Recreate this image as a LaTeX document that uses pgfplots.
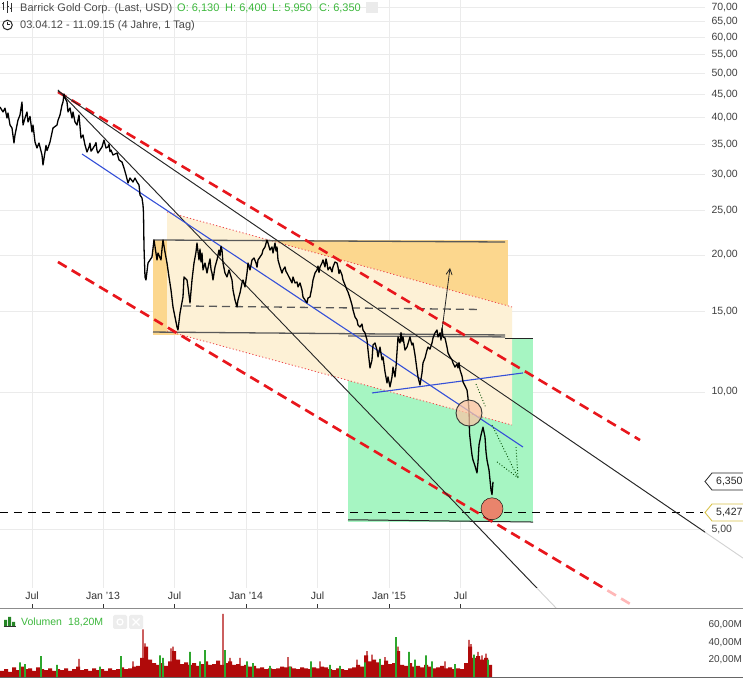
\documentclass[border=0pt]{standalone}
\usepackage{pgfplots}
\pgfplotsset{compat=1.18}
\usepackage{pgfplotstable}
\usetikzlibrary{arrows.meta}
\usepackage{fontspec}
\setmainfont{Liberation Sans}
\definecolor{gridc}{HTML}{EBEBEB}
\definecolor{txt}{HTML}{4A4A4A}
\definecolor{hdrgreen}{HTML}{3DB83D}
\definecolor{redd}{HTML}{E8161C}
\definecolor{orangef}{HTML}{FCD78E}
\definecolor{creamf}{HTML}{FDF1D6}
\definecolor{greenf}{HTML}{A6F5C2}
\definecolor{bluel}{HTML}{3550D8}
\definecolor{peach}{HTML}{F9C6A6}
\definecolor{salmon}{HTML}{E9846C}
\definecolor{volred}{HTML}{B00A0A}
\definecolor{volgreen}{HTML}{2EA62E}
\definecolor{gold}{HTML}{D8C24A}
\newcommand\fa{\fontsize{10.5}{12}\selectfont}
\newcommand\fv{\fontsize{10}{12}\selectfont}
\newcommand\fh{\fontsize{11}{13}\selectfont}

\pgfplotstableread{
x p
0 42.25
3 41.21
5 42.00
7 39.97
8 41.00
10 38.58
12 38.00
14 35.23
15 36.68
18 39.57
20 40.58
22 43.34
23 38.58
25 39.97
27 41.21
28 39.17
30 40.30
32 37.24
33 38.58
35 35.40
37 34.35
39 35.23
42 33.15
43 31.52
45 33.66
46 34.80
47 33.90
48 34.35
50 35.40
53 38.00
57 38.58
58 39.50
60 40.58
62 42.68
63 43.34
64 45.13
65 44.23
67 43.34
68 41.21
70 42.05
72 39.97
73 41.21
75 39.17
77 38.58
79 40.58
81 36.12
83 36.68
85 34.87
87 33.66
89 34.52
90 35.20
91 33.80
92 34.00
95 34.87
96 35.30
97 33.90
98 33.49
102 34.52
104 35.76
106 34.35
108 34.52
109 35.00
110 33.70
111 34.00
113 33.15
117 33.49
119 32.33
122 32.00
124 31.04
126 29.96
128 28.78
130 29.51
133 28.92
135 29.51
137 28.92
139 28.49
140 27.08
142 26.68
143 25.75
143.5 24.73
144 20.82
145 17.89
146 17.62
148 19.20
152 19.79
154 21.57
157 19.50
158 20.19
161 19.50
162 20.60
163 21.57
165 20.29
167 19.20
169 17.89
171 16.75
173 15.37
175 14.61
177 13.89
178 13.68
180 14.91
183 16.17
184 17.89
187 17.62
188 17.01
190 15.69
192 17.62
194 19.20
196 20.29
197 21.24
199 19.50
200 20.60
201 19.30
202 20.19
203 18.54
205 19.20
207 18.25
209 19.20
210 19.60
211 18.60
212 18.25
213 17.62
215 18.82
217 19.50
219 20.50
220 19.90
221 20.90
222 20.50
223 19.20
225 18.25
227 17.89
229 18.54
232 17.62
233 16.75
235 15.92
237 15.37
238 15.92
240 16.50
242 17.36
243 17.62
245 17.01
247 18.25
248 19.20
250 18.54
251 19.00
252 19.50
254 19.70
256 19.20
257 18.80
258 19.50
260 19.79
262 20.09
263 20.50
265 20.82
267 21.57
268 21.24
270 20.50
272 20.82
273 20.19
275 21.24
276 20.40
277 20.82
278 19.50
280 18.82
282 18.25
283 18.54
285 18.82
286 18.40
287 18.25
289 17.89
292 17.36
293 17.89
295 17.36
297 17.44
298 17.01
300 17.36
302 16.75
303 16.17
305 15.92
307 15.69
308 16.08
310 16.17
312 17.01
313 17.62
315 18.25
317 18.54
318 18.90
319 18.30
320 18.82
322 19.20
323 19.50
325 18.82
326 19.60
327 19.20
328 18.54
330 18.82
332 18.35
333 18.82
335 19.30
337 19.20
338 18.82
339 18.20
340 18.54
342 18.07
343 17.62
345 17.18
347 16.75
348 16.58
350 16.08
352 15.53
353 15.14
355 14.61
357 14.39
358 14.03
360 13.89
362 14.10
363 13.68
365 13.48
367 13.01
368 12.36
370 11.29
372 11.76
373 12.68
375 12.81
377 12.36
378 11.94
380 12.55
382 11.76
383 11.94
385 11.07
387 10.47
388 10.79
390 10.26
392 10.79
393 11.34
395 10.79
396 11.34
398 13.21
400 12.81
401 13.50
402 12.90
403 13.21
405 12.36
407 12.55
410 13.21
411 12.90
412 12.68
413 12.81
415 12.06
417 11.18
418 10.79
420 10.36
422 11.01
423 11.58
425 11.88
427 12.36
428 12.55
430 12.42
432 12.81
433 13.14
435 13.48
437 13.68
438 13.21
440 13.48
441 13.00
442 13.82
443 13.21
445 13.14
447 12.55
448 12.18
450 11.94
452 11.76
453 11.58
455 11.34
457 11.52
458 11.29
459 11.60
460 11.18
462 10.84
463 10.52
465 10.31
467 10.10
468 9.70
469 9.13
469.5 8.12
471 7.57
472 7.27
473 7.09
475 6.88
477 6.64
478 7.02
479 7.65
481 8.04
483 8.37
485 7.96
486 7.38
487 7.09
489 6.74
490 6.41
491 6.09
492 5.95
493 6.35
}\price

\pgfplotstableread{
x v
2 7
6 9
10 6
14 11
18 8
22 12
26 9
30 10
34 7
38 11
42 9
46 8
50 10
54 7
58 9
62 8
66 10
70 7
74 9
78 12
82 8
86 9
90 7
94 10
98 8
102 9
106 7
110 10
114 8
118 9
122 11
126 9
130 10
134 12
138 13
142 22
146 35
150 20
154 16
158 14
162 16
166 13
170 18
174 30
178 20
182 15
186 17
190 14
194 16
198 13
202 15
206 18
210 14
214 15
218 19
222 14
226 16
230 18
234 14
238 15
242 13
246 14
250 12
254 13
258 10
262 11
266 9
270 10
274 9
278 10
282 12
286 11
290 12
294 10
298 9
302 11
306 10
310 9
314 11
318 10
322 12
326 11
330 9
334 8
338 10
342 9
346 8
350 10
354 11
358 14
362 12
366 25
370 18
374 20
378 17
382 14
386 19
390 15
394 16
398 30
402 14
406 13
410 16
414 12
418 13
422 11
426 14
430 12
434 10
438 11
442 13
446 10
450 11
454 9
458 10
462 9
466 16
470 35
474 22
478 24
482 20
486 22
490 14
}\volume

\begin{document}
\begin{tikzpicture}[x=1pt,y=1pt]
\path[use as bounding box, fill=white] (0pt,0pt) rectangle (743pt,679pt);

% ---------- frame axis: x ticks + faded continuations ----------
\begin{axis}[
  at={(0pt,679pt)}, anchor=north west, scale only axis,
  width=743pt, height=609pt, xmin=0, xmax=743, ymin=3.338, ymax=72.61, ymode=log,
  axis line style={draw=none},
  ytick=\empty,
  xtick={32,103,174.5,246,317.5,389,460.5},
  xticklabels={Jul,Jan '13,Jul,Jan '14,Jul,Jan '15,Jul},
  xtick pos=left,
  tick align=inside, major tick length=5pt,
  xtick style={black!80, line width=0.8pt},
  xticklabel style={anchor=base, yshift=9pt, text=black!80, font=\fa},
  clip=true,
]
\addplot[gray!35, line width=0.9pt] coordinates {(58,45.83) (743,4.318)};
\addplot[gray!35, line width=0.9pt] coordinates {(58,46.06) (557,3.338)};
\addplot[red!28, line width=2.6pt, dash pattern=on 10pt off 6pt] coordinates {(58,19.30) (632,3.405)};
\end{axis}
\draw[black!45, line width=1pt] (0pt,70pt) -- (743pt,70pt);

% ---------- main price axis ----------
\begin{axis}[
  at={(0pt,679pt)}, anchor=north west, scale only axis,
  width=705pt, height=588pt, xmin=0, xmax=705, ymin=3.711, ymax=72.61, ymode=log,
  axis line style={draw=none},
  xtick={32,103,174.5,246,317.5,389,460.5}, xticklabels={},
  ytick={5,10,15,20,25,30,35,40,45,50,55,60,65,70},
  yticklabels={{5,00},{10,00},{15,00},{20,00},{25,00},{30,00},{35,00},{40,00},{45,00},{50,00},{55,00},{60,00},{65,00},{70,00}},
  yticklabel pos=right,
  yticklabel style={anchor=west, xshift=3pt, text=black!75, font=\fa},
  major tick length=0pt, grid=major, major grid style={gridc, line width=0.8pt},
  clip=true,
]
% areas
\addplot[fill=orangef, draw=none] coordinates {(153,21.57) (508,21.57) (508,13.34) (153,13.34)};
\addplot[fill=greenf, draw=none] coordinates {(348,13.08) (533,13.08) (533,5.18) (348,5.18)};
\addplot[fill=creamf, draw=none] coordinates {(167,24.85) (512,15.37) (512,8.46) (167,13.61)};
% dotted channel borders
\addplot[redd!80, line width=0.8pt, dash pattern=on 1.2pt off 2.2pt] coordinates {(167,24.85) (512,15.37)};
\addplot[redd!80, line width=0.8pt, dash pattern=on 1.2pt off 2.2pt] coordinates {(167,13.61) (512,8.46)};
% box lines
\addplot[black!65, line width=1.3pt] coordinates {(153,21.57) (505,21.35)};
\addplot[black!65, line width=1.3pt] coordinates {(153,13.54) (505,13.34)};
\addplot[black!60, line width=1.3pt] coordinates {(348,13.27) (505,13.21)};
\addplot[black!85, line width=1pt] coordinates {(505,13.08) (533,13.08)};
\addplot[black!85, line width=1pt] coordinates {(348,5.24) (533,5.18)};
\addplot[black!65, line width=1.3pt, dash pattern=on 8pt off 5pt] coordinates {(183,15.45) (478,15.18)};
\addplot[black, line width=0.9pt, dash pattern=on 8pt off 6pt] coordinates {(0,5.427) (703,5.427)};
% trend lines
\addplot[redd, line width=2.6pt, dash pattern=on 10pt off 6pt] coordinates {(58,45.60) (640,7.84)};
\addplot[redd, line width=2.6pt, dash pattern=on 10pt off 6pt] coordinates {(58,19.30) (632,3.405)};
\addplot[black!85, line width=0.9pt] coordinates {(58,45.83) (743,4.318)};
\addplot[black!85, line width=0.9pt] coordinates {(58,46.06) (557,3.338)};
\addplot[bluel, line width=1.1pt] coordinates {(82,33.32) (523,7.57)};
\addplot[bluel, line width=1.1pt] coordinates {(372,9.95) (523,11.01)};
% price
\addplot[black, line width=1.3pt, line join=round] table {\price};
% annotations
\addplot[black!85, line width=0.8pt, -{Straight Barb[length=6pt,width=6pt]}] coordinates {(441,13.14) (450,18.73)};
\addplot[only marks, mark=*, mark size=13pt, mark options={fill=peach, fill opacity=0.75, draw=black!80, line width=0.9pt}] coordinates {(469,8.99)};
\addplot[only marks, mark=*, mark size=11pt, mark options={fill=salmon, draw=none}] coordinates {(492,5.54)};
\addplot[black!70!green, line width=0.9pt, dotted] coordinates {(476,10.41) (486,9.22)};
\addplot[black!70!green, line width=0.9pt, dotted] coordinates {(492,8.46) (518,6.48)};
\addplot[black!70!green, line width=0.9pt, dotted] coordinates {(497,7.02) (518,6.48)};
\addplot[black!70!green, line width=0.9pt, dotted] coordinates {(516,7.57) (518,6.48)};
\end{axis}

% ---------- volume axis ----------
\begin{axis}[
  at={(0pt,2pt)}, anchor=south west, scale only axis,
  width=705pt, height=68pt, xmin=0, xmax=705, ymin=0, ymax=78.6,
  axis line style={draw=none}, xtick=\empty,
  ytick={20,40,60}, yticklabels={{20,00M},{40,00M},{60,00M}},
  yticklabel pos=right,
  yticklabel style={anchor=west, xshift=0pt, text=black!75, font=\fv},
  major tick length=0pt, clip=true,
]
\addplot[ybar, bar width=4pt, bar shift=0pt, fill=volred, draw=none] table {\volume};
\addplot[ybar, bar width=1.3pt, bar shift=0pt, fill=volred, draw=none] coordinates {(79,21) (133,18) (143,55) (145,39) (147,28) (171,33) (173,35) (175,29) (223,73) (230,22) (240,22) (288,23) (320,18) (357,20) (367,30) (372,26) (385,23) (398,35) (445,18) (469,43) (471,38) (478,29) (482,25) (486,27)};
\addplot[ybar, bar width=1.6pt, bar shift=0pt, fill=volgreen, draw=none] coordinates {(20,17) (25,15) (41,24) (57,14) (100,12) (121,24) (160,25) (163,22) (190,29) (200,18) (205,31) (225,31) (247,18) (253,16) (270,13) (290,12) (311,18) (330,14) (340,13) (365,17) (380,21) (396,46) (409,29) (415,20) (426,25) (432,18) (455,15) (474,26) (488,20)};
\end{axis}
\draw[black!60, line width=0.8pt] (0pt,1.2pt) -- (743pt,1.2pt);

% ---------- price tags ----------
\draw[black!85, fill=white, line width=0.8pt] (705pt,197.5pt) -- (712pt,206pt) -- (746pt,206pt) -- (746pt,189pt) -- (712pt,189pt) -- cycle;
\node[anchor=west, inner sep=0pt, font=\fa, text=black!85] at (716pt,197.5pt) {6,350};
\draw[gold, fill=white, line width=0.9pt] (705pt,166.5pt) -- (712pt,175pt) -- (746pt,175pt) -- (746pt,158pt) -- (712pt,158pt) -- cycle;
\node[anchor=west, inner sep=0pt, font=\fa, text=black!85] at (716pt,166.5pt) {5,427};

% ---------- header ----------
\draw[black!80, line width=1pt] (3.5pt,677pt) -- (3.5pt,669pt) (7.5pt,678pt) -- (7.5pt,666pt) (11.5pt,676pt) -- (11.5pt,667pt);
\draw[black!80, line width=1pt] (2pt,675pt) -- (3.5pt,675pt) (7.5pt,672pt) -- (9pt,672pt) (10pt,670pt) -- (11.5pt,670pt);
\node[anchor=base west, inner sep=0pt, font=\fh, text=txt] at (20pt,667.5pt) {Barrick Gold Corp. (Last, USD)};
\node[anchor=base west, inner sep=0pt, font=\fh, text=hdrgreen] at (177pt,667.5pt) {O: 6,130};
\node[anchor=base west, inner sep=0pt, font=\fh, text=hdrgreen] at (225pt,667.5pt) {H: 6,400};
\node[anchor=base west, inner sep=0pt, font=\fh, text=hdrgreen] at (272pt,667.5pt) {L: 5,950};
\node[anchor=base west, inner sep=0pt, font=\fh, text=hdrgreen] at (319pt,667.5pt) {C: 6,350};
\fill[black!8] (366pt,666pt) rectangle (378pt,677pt);
\draw[black!85, line width=1pt] (7.5pt,654pt) circle (4.8pt);
\draw[black!85, line width=1pt] (7.5pt,657pt) -- (7.5pt,654pt) -- (10pt,654pt);
\node[anchor=base west, inner sep=0pt, font=\fh, text=txt] at (20pt,650pt) {03.04.12 - 11.09.15 (4 Jahre, 1 Tag)};

% ---------- volume header ----------
\fill[volgreen!80!black] (4pt,53pt) rectangle (7pt,59pt) (8pt,53pt) rectangle (11pt,62pt) (12pt,53pt) rectangle (15pt,57pt);
\draw[black!80, line width=0.6pt] (3.5pt,53pt) -- (16pt,53pt);
\node[anchor=base west, inner sep=0pt, font=\fa, text=hdrgreen] at (21pt,53.5pt) {Volumen};
\node[anchor=base west, inner sep=0pt, font=\fa, text=hdrgreen] at (68pt,53.5pt) {18,20M};
\fill[black!7, rounded corners=1.5pt] (113pt,50pt) rectangle (127pt,64pt);
\fill[black!7, rounded corners=1.5pt] (129pt,50pt) rectangle (143pt,64pt);
\draw[white, line width=1.2pt] (120pt,57pt) circle (3pt);
\draw[white, line width=1.2pt] (132.5pt,53.5pt) -- (139.5pt,60.5pt) (132.5pt,60.5pt) -- (139.5pt,53.5pt);
\end{tikzpicture}
\end{document}
